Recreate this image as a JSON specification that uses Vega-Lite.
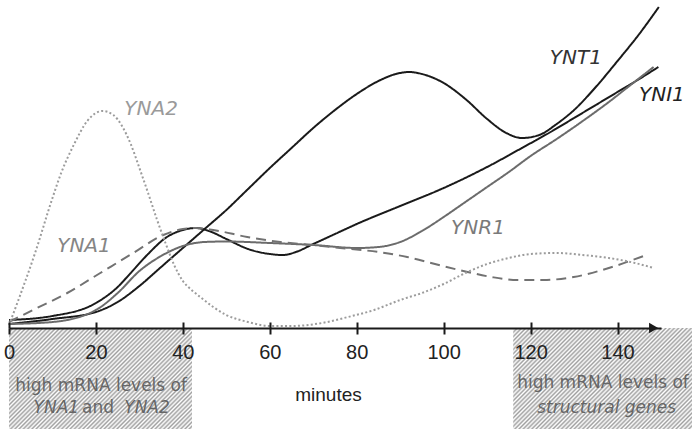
{
  "$schema": "https://vega.github.io/schema/vega-lite/v6.json",
  "width": 652,
  "height": 328,
  "autosize": {"type": "none"},
  "padding": {"left": 9, "top": 0, "right": 31, "bottom": 101},
  "background": "white",
  "config": {"view": {"stroke": null}},
  "resolve": {"axis": {"x": "independent", "y": "independent"}},
  "datasets": {
    "anchor": [{}],
    "boxes": [
      {"region": "early", "start": 0, "end": 42.1},
      {"region": "late", "start": 116, "end": 158}
    ],
    "curves": [
      {"gene": "YNT1", "minute": 0, "level": 4},
      {"gene": "YNT1", "minute": 10, "level": 9},
      {"gene": "YNT1", "minute": 20, "level": 16},
      {"gene": "YNT1", "minute": 25, "level": 26},
      {"gene": "YNT1", "minute": 30, "level": 42},
      {"gene": "YNT1", "minute": 35, "level": 61},
      {"gene": "YNT1", "minute": 40, "level": 80},
      {"gene": "YNT1", "minute": 45, "level": 99},
      {"gene": "YNT1", "minute": 50, "level": 118},
      {"gene": "YNT1", "minute": 55, "level": 139},
      {"gene": "YNT1", "minute": 60, "level": 160},
      {"gene": "YNT1", "minute": 65, "level": 180},
      {"gene": "YNT1", "minute": 70, "level": 200},
      {"gene": "YNT1", "minute": 75, "level": 218},
      {"gene": "YNT1", "minute": 80, "level": 234},
      {"gene": "YNT1", "minute": 85, "level": 247},
      {"gene": "YNT1", "minute": 89, "level": 254},
      {"gene": "YNT1", "minute": 92, "level": 256},
      {"gene": "YNT1", "minute": 95, "level": 254},
      {"gene": "YNT1", "minute": 100, "level": 245},
      {"gene": "YNT1", "minute": 105, "level": 229},
      {"gene": "YNT1", "minute": 110, "level": 209},
      {"gene": "YNT1", "minute": 114, "level": 196},
      {"gene": "YNT1", "minute": 118, "level": 190},
      {"gene": "YNT1", "minute": 122, "level": 193},
      {"gene": "YNT1", "minute": 126, "level": 204},
      {"gene": "YNT1", "minute": 130, "level": 218},
      {"gene": "YNT1", "minute": 135, "level": 241},
      {"gene": "YNT1", "minute": 140, "level": 267},
      {"gene": "YNT1", "minute": 145, "level": 294},
      {"gene": "YNT1", "minute": 149.5, "level": 321},
      {"gene": "YNI1", "minute": 0, "level": 8},
      {"gene": "YNI1", "minute": 10, "level": 12},
      {"gene": "YNI1", "minute": 20, "level": 25},
      {"gene": "YNI1", "minute": 25, "level": 41},
      {"gene": "YNI1", "minute": 28, "level": 55},
      {"gene": "YNI1", "minute": 32, "level": 74},
      {"gene": "YNI1", "minute": 36, "level": 90},
      {"gene": "YNI1", "minute": 40, "level": 98},
      {"gene": "YNI1", "minute": 43, "level": 100},
      {"gene": "YNI1", "minute": 46, "level": 97},
      {"gene": "YNI1", "minute": 50, "level": 89},
      {"gene": "YNI1", "minute": 55, "level": 79},
      {"gene": "YNI1", "minute": 60, "level": 74},
      {"gene": "YNI1", "minute": 63, "level": 73},
      {"gene": "YNI1", "minute": 66, "level": 76},
      {"gene": "YNI1", "minute": 70, "level": 84},
      {"gene": "YNI1", "minute": 75, "level": 94},
      {"gene": "YNI1", "minute": 80, "level": 104},
      {"gene": "YNI1", "minute": 90, "level": 122},
      {"gene": "YNI1", "minute": 100, "level": 140},
      {"gene": "YNI1", "minute": 110, "level": 161},
      {"gene": "YNI1", "minute": 118, "level": 180},
      {"gene": "YNI1", "minute": 125, "level": 197},
      {"gene": "YNI1", "minute": 130, "level": 210},
      {"gene": "YNI1", "minute": 135, "level": 223},
      {"gene": "YNI1", "minute": 140, "level": 236},
      {"gene": "YNI1", "minute": 145, "level": 249},
      {"gene": "YNI1", "minute": 149.4, "level": 261},
      {"gene": "YNR1", "minute": 0, "level": 4},
      {"gene": "YNR1", "minute": 10, "level": 6},
      {"gene": "YNR1", "minute": 20, "level": 18},
      {"gene": "YNR1", "minute": 25, "level": 35},
      {"gene": "YNR1", "minute": 30, "level": 57},
      {"gene": "YNR1", "minute": 35, "level": 72},
      {"gene": "YNR1", "minute": 40, "level": 82},
      {"gene": "YNR1", "minute": 45, "level": 86},
      {"gene": "YNR1", "minute": 50, "level": 86.5},
      {"gene": "YNR1", "minute": 60, "level": 85},
      {"gene": "YNR1", "minute": 70, "level": 83},
      {"gene": "YNR1", "minute": 80, "level": 80},
      {"gene": "YNR1", "minute": 85, "level": 81},
      {"gene": "YNR1", "minute": 90, "level": 86},
      {"gene": "YNR1", "minute": 95, "level": 97},
      {"gene": "YNR1", "minute": 100, "level": 111},
      {"gene": "YNR1", "minute": 105, "level": 126},
      {"gene": "YNR1", "minute": 110, "level": 141},
      {"gene": "YNR1", "minute": 115, "level": 156},
      {"gene": "YNR1", "minute": 120, "level": 172},
      {"gene": "YNR1", "minute": 126, "level": 189},
      {"gene": "YNR1", "minute": 132, "level": 207},
      {"gene": "YNR1", "minute": 138, "level": 226},
      {"gene": "YNR1", "minute": 143, "level": 243},
      {"gene": "YNR1", "minute": 148.3, "level": 261},
      {"gene": "YNA1", "minute": 0, "level": 6},
      {"gene": "YNA1", "minute": 5.5, "level": 18},
      {"gene": "YNA1", "minute": 13.4, "level": 35},
      {"gene": "YNA1", "minute": 21, "level": 55},
      {"gene": "YNA1", "minute": 28.6, "level": 75},
      {"gene": "YNA1", "minute": 35.5, "level": 93},
      {"gene": "YNA1", "minute": 40, "level": 99},
      {"gene": "YNA1", "minute": 43, "level": 100},
      {"gene": "YNA1", "minute": 47, "level": 98},
      {"gene": "YNA1", "minute": 54.8, "level": 91},
      {"gene": "YNA1", "minute": 62.4, "level": 86},
      {"gene": "YNA1", "minute": 70, "level": 83},
      {"gene": "YNA1", "minute": 76.2, "level": 80},
      {"gene": "YNA1", "minute": 85, "level": 76},
      {"gene": "YNA1", "minute": 91.6, "level": 71},
      {"gene": "YNA1", "minute": 98, "level": 64},
      {"gene": "YNA1", "minute": 105.5, "level": 56},
      {"gene": "YNA1", "minute": 111, "level": 51},
      {"gene": "YNA1", "minute": 117, "level": 48},
      {"gene": "YNA1", "minute": 123, "level": 48},
      {"gene": "YNA1", "minute": 129.9, "level": 51},
      {"gene": "YNA1", "minute": 138, "level": 60},
      {"gene": "YNA1", "minute": 146, "level": 72},
      {"gene": "YNA2", "minute": 0, "level": 3},
      {"gene": "YNA2", "minute": 2.5, "level": 32},
      {"gene": "YNA2", "minute": 6, "level": 75},
      {"gene": "YNA2", "minute": 10, "level": 130},
      {"gene": "YNA2", "minute": 12, "level": 155},
      {"gene": "YNA2", "minute": 15, "level": 184},
      {"gene": "YNA2", "minute": 18, "level": 207},
      {"gene": "YNA2", "minute": 21.5, "level": 217},
      {"gene": "YNA2", "minute": 24, "level": 213},
      {"gene": "YNA2", "minute": 26, "level": 202},
      {"gene": "YNA2", "minute": 28, "level": 184},
      {"gene": "YNA2", "minute": 30, "level": 160},
      {"gene": "YNA2", "minute": 32, "level": 135},
      {"gene": "YNA2", "minute": 34, "level": 109},
      {"gene": "YNA2", "minute": 36, "level": 85},
      {"gene": "YNA2", "minute": 38, "level": 63},
      {"gene": "YNA2", "minute": 40, "level": 47},
      {"gene": "YNA2", "minute": 42, "level": 38},
      {"gene": "YNA2", "minute": 44, "level": 31},
      {"gene": "YNA2", "minute": 47, "level": 21},
      {"gene": "YNA2", "minute": 50, "level": 13},
      {"gene": "YNA2", "minute": 55, "level": 6},
      {"gene": "YNA2", "minute": 60, "level": 2},
      {"gene": "YNA2", "minute": 65, "level": 2},
      {"gene": "YNA2", "minute": 72, "level": 5},
      {"gene": "YNA2", "minute": 78, "level": 11},
      {"gene": "YNA2", "minute": 84, "level": 18},
      {"gene": "YNA2", "minute": 90, "level": 28},
      {"gene": "YNA2", "minute": 95, "level": 35},
      {"gene": "YNA2", "minute": 100, "level": 44},
      {"gene": "YNA2", "minute": 105, "level": 55},
      {"gene": "YNA2", "minute": 110, "level": 64},
      {"gene": "YNA2", "minute": 115, "level": 70},
      {"gene": "YNA2", "minute": 120, "level": 74},
      {"gene": "YNA2", "minute": 126, "level": 75},
      {"gene": "YNA2", "minute": 132, "level": 73},
      {"gene": "YNA2", "minute": 138, "level": 70},
      {"gene": "YNA2", "minute": 144, "level": 65},
      {"gene": "YNA2", "minute": 148.3, "level": 60}
    ]
  },
  "layer": [
    {
      "data": {"name": "boxes"},
      "mark": {
        "type": "rect",
        "strokeWidth": 0,
        "fill": {
          "gradient": "linear", "x1": 0, "y1": 0, "x2": 1.1906, "y2": 0.6536,
          "stops": [
            {"offset": 0, "color": "#a0a0a0"}, {"offset": 0.0075, "color": "#ffffff"},
            {"offset": 0.015, "color": "#a0a0a0"}, {"offset": 0.0225, "color": "#ffffff"},
            {"offset": 0.03, "color": "#a0a0a0"}, {"offset": 0.0375, "color": "#ffffff"},
            {"offset": 0.045, "color": "#a0a0a0"}, {"offset": 0.0525, "color": "#ffffff"},
            {"offset": 0.06, "color": "#a0a0a0"}, {"offset": 0.0675, "color": "#ffffff"},
            {"offset": 0.075, "color": "#a0a0a0"}, {"offset": 0.0825, "color": "#ffffff"},
            {"offset": 0.09, "color": "#a0a0a0"}, {"offset": 0.0975, "color": "#ffffff"},
            {"offset": 0.105, "color": "#a0a0a0"}, {"offset": 0.1125, "color": "#ffffff"},
            {"offset": 0.12, "color": "#a0a0a0"}, {"offset": 0.1275, "color": "#ffffff"},
            {"offset": 0.135, "color": "#a0a0a0"}, {"offset": 0.1425, "color": "#ffffff"},
            {"offset": 0.15, "color": "#a0a0a0"}, {"offset": 0.1575, "color": "#ffffff"},
            {"offset": 0.165, "color": "#a0a0a0"}, {"offset": 0.1725, "color": "#ffffff"},
            {"offset": 0.18, "color": "#a0a0a0"}, {"offset": 0.1875, "color": "#ffffff"},
            {"offset": 0.195, "color": "#a0a0a0"}, {"offset": 0.2025, "color": "#ffffff"},
            {"offset": 0.21, "color": "#a0a0a0"}, {"offset": 0.2175, "color": "#ffffff"},
            {"offset": 0.225, "color": "#a0a0a0"}, {"offset": 0.2325, "color": "#ffffff"},
            {"offset": 0.24, "color": "#a0a0a0"}, {"offset": 0.2475, "color": "#ffffff"},
            {"offset": 0.255, "color": "#a0a0a0"}, {"offset": 0.2625, "color": "#ffffff"},
            {"offset": 0.27, "color": "#a0a0a0"}, {"offset": 0.2775, "color": "#ffffff"},
            {"offset": 0.285, "color": "#a0a0a0"}, {"offset": 0.2925, "color": "#ffffff"},
            {"offset": 0.3, "color": "#a0a0a0"}, {"offset": 0.3075, "color": "#ffffff"},
            {"offset": 0.315, "color": "#a0a0a0"}, {"offset": 0.3225, "color": "#ffffff"},
            {"offset": 0.33, "color": "#a0a0a0"}, {"offset": 0.3375, "color": "#ffffff"},
            {"offset": 0.345, "color": "#a0a0a0"}, {"offset": 0.3525, "color": "#ffffff"},
            {"offset": 0.36, "color": "#a0a0a0"}, {"offset": 0.3675, "color": "#ffffff"},
            {"offset": 0.375, "color": "#a0a0a0"}, {"offset": 0.3825, "color": "#ffffff"},
            {"offset": 0.39, "color": "#a0a0a0"}, {"offset": 0.3975, "color": "#ffffff"},
            {"offset": 0.405, "color": "#a0a0a0"}, {"offset": 0.4125, "color": "#ffffff"},
            {"offset": 0.42, "color": "#a0a0a0"}, {"offset": 0.4275, "color": "#ffffff"},
            {"offset": 0.435, "color": "#a0a0a0"}, {"offset": 0.4425, "color": "#ffffff"},
            {"offset": 0.45, "color": "#a0a0a0"}, {"offset": 0.4575, "color": "#ffffff"},
            {"offset": 0.465, "color": "#a0a0a0"}, {"offset": 0.4725, "color": "#ffffff"},
            {"offset": 0.48, "color": "#a0a0a0"}, {"offset": 0.4875, "color": "#ffffff"},
            {"offset": 0.495, "color": "#a0a0a0"}, {"offset": 0.5025, "color": "#ffffff"},
            {"offset": 0.51, "color": "#a0a0a0"}, {"offset": 0.5175, "color": "#ffffff"},
            {"offset": 0.525, "color": "#a0a0a0"}, {"offset": 0.5325, "color": "#ffffff"},
            {"offset": 0.54, "color": "#a0a0a0"}, {"offset": 0.5475, "color": "#ffffff"},
            {"offset": 0.555, "color": "#a0a0a0"}, {"offset": 0.5625, "color": "#ffffff"},
            {"offset": 0.57, "color": "#a0a0a0"}, {"offset": 0.5775, "color": "#ffffff"},
            {"offset": 0.585, "color": "#a0a0a0"}, {"offset": 0.5925, "color": "#ffffff"},
            {"offset": 0.6, "color": "#a0a0a0"}, {"offset": 0.6075, "color": "#ffffff"},
            {"offset": 0.615, "color": "#a0a0a0"}, {"offset": 0.6225, "color": "#ffffff"},
            {"offset": 0.63, "color": "#a0a0a0"}, {"offset": 0.6375, "color": "#ffffff"},
            {"offset": 0.645, "color": "#a0a0a0"}, {"offset": 0.6525, "color": "#ffffff"},
            {"offset": 0.66, "color": "#a0a0a0"}, {"offset": 0.6675, "color": "#ffffff"},
            {"offset": 0.675, "color": "#a0a0a0"}, {"offset": 0.6825, "color": "#ffffff"},
            {"offset": 0.69, "color": "#a0a0a0"}, {"offset": 0.6975, "color": "#ffffff"},
            {"offset": 0.705, "color": "#a0a0a0"}, {"offset": 0.7125, "color": "#ffffff"},
            {"offset": 0.72, "color": "#a0a0a0"}, {"offset": 0.7275, "color": "#ffffff"},
            {"offset": 0.735, "color": "#a0a0a0"}, {"offset": 0.7425, "color": "#ffffff"},
            {"offset": 0.75, "color": "#a0a0a0"}, {"offset": 0.7575, "color": "#ffffff"},
            {"offset": 0.765, "color": "#a0a0a0"}, {"offset": 0.7725, "color": "#ffffff"},
            {"offset": 0.78, "color": "#a0a0a0"}, {"offset": 0.7875, "color": "#ffffff"},
            {"offset": 0.795, "color": "#a0a0a0"}, {"offset": 0.8025, "color": "#ffffff"},
            {"offset": 0.81, "color": "#a0a0a0"}, {"offset": 0.8175, "color": "#ffffff"},
            {"offset": 0.825, "color": "#a0a0a0"}, {"offset": 0.8325, "color": "#ffffff"},
            {"offset": 0.84, "color": "#a0a0a0"}, {"offset": 0.8475, "color": "#ffffff"},
            {"offset": 0.855, "color": "#a0a0a0"}, {"offset": 0.8625, "color": "#ffffff"},
            {"offset": 0.87, "color": "#a0a0a0"}, {"offset": 0.8775, "color": "#ffffff"},
            {"offset": 0.885, "color": "#a0a0a0"}, {"offset": 0.8925, "color": "#ffffff"},
            {"offset": 0.9, "color": "#a0a0a0"}, {"offset": 0.9075, "color": "#ffffff"},
            {"offset": 0.915, "color": "#a0a0a0"}, {"offset": 0.9225, "color": "#ffffff"},
            {"offset": 0.93, "color": "#a0a0a0"}, {"offset": 0.9375, "color": "#ffffff"},
            {"offset": 0.945, "color": "#a0a0a0"}, {"offset": 0.9525, "color": "#ffffff"},
            {"offset": 0.96, "color": "#a0a0a0"}, {"offset": 0.9675, "color": "#ffffff"},
            {"offset": 0.975, "color": "#a0a0a0"}, {"offset": 0.9825, "color": "#ffffff"},
            {"offset": 0.99, "color": "#a0a0a0"}, {"offset": 0.9975, "color": "#ffffff"},
            {"offset": 1, "color": "#a0a0a0"}
          ]
        }
      },
      "encoding": {
        "x": {"field": "start", "type": "quantitative", "scale": {"domain": [0, 150], "nice": false, "zero": false}, "axis": null},
        "x2": {"field": "end"},
        "y": {"datum": 0, "type": "quantitative", "scale": {"domain": [0, 328], "nice": false, "zero": false}, "axis": null},
        "y2": {"datum": -101}
      }
    },
    {
      "data": {"name": "anchor"},
      "mark": {"type": "text", "text": "high mRNA levels of", "font": "DejaVu Sans", "fontSize": 17, "color": "#666666", "align": "center", "baseline": "middle"},
      "encoding": {"x": {"datum": 21.2, "type": "quantitative", "axis": null}, "y": {"datum": -58, "type": "quantitative", "axis": null}}
    },
    {
      "data": {"name": "anchor"},
      "mark": {"type": "text", "text": "YNA1", "font": "DejaVu Sans", "fontStyle": "oblique", "fontSize": 17, "color": "#666666", "align": "center", "baseline": "middle"},
      "encoding": {"x": {"datum": 10.9, "type": "quantitative", "axis": null}, "y": {"datum": -80, "type": "quantitative", "axis": null}}
    },
    {
      "data": {"name": "anchor"},
      "mark": {"type": "text", "text": "and", "font": "DejaVu Sans", "fontSize": 17, "color": "#666666", "align": "center", "baseline": "middle"},
      "encoding": {"x": {"datum": 20.5, "type": "quantitative", "axis": null}, "y": {"datum": -80, "type": "quantitative", "axis": null}}
    },
    {
      "data": {"name": "anchor"},
      "mark": {"type": "text", "text": "YNA2", "font": "DejaVu Sans", "fontStyle": "oblique", "fontSize": 17, "color": "#666666", "align": "center", "baseline": "middle"},
      "encoding": {"x": {"datum": 31.75, "type": "quantitative", "axis": null}, "y": {"datum": -80, "type": "quantitative", "axis": null}}
    },
    {
      "data": {"name": "anchor"},
      "mark": {"type": "text", "text": "high mRNA levels of", "font": "DejaVu Sans", "fontSize": 17, "color": "#666666", "align": "center", "baseline": "middle"},
      "encoding": {"x": {"datum": 136.65, "type": "quantitative", "axis": null}, "y": {"datum": -55, "type": "quantitative", "axis": null}}
    },
    {
      "data": {"name": "anchor"},
      "mark": {"type": "text", "text": "structural genes", "font": "DejaVu Sans", "fontStyle": "oblique", "fontSize": 17, "color": "#666666", "align": "center", "baseline": "middle"},
      "encoding": {"x": {"datum": 137.5, "type": "quantitative", "axis": null}, "y": {"datum": -80, "type": "quantitative", "axis": null}}
    },
    {
      "data": {"name": "curves"},
      "mark": {"type": "line", "interpolate": "monotone", "strokeWidth": 2},
      "encoding": {
        "x": {
          "field": "minute", "type": "quantitative",
          "axis": {
            "orient": "bottom", "values": [0, 20, 40, 60, 80, 100, 120, 140], "grid": false, "zindex": 2,
            "domainColor": "#1a1a1a", "domainWidth": 2,
            "tickColor": "#1a1a1a", "tickWidth": 2, "tickSize": 6,
            "labelFont": "Liberation Sans", "labelFontSize": 20, "labelColor": "#222222", "labelPadding": 8,
            "labelFlush": false, "labelOverlap": false,
            "title": "minutes", "titleFont": "Liberation Sans", "titleFontSize": 19, "titleFontWeight": "normal",
            "titleColor": "#222222", "titleX": 319, "titleY": 66, "titleBaseline": "middle", "titleAlign": "center"
          }
        },
        "y": {"field": "level", "type": "quantitative", "axis": null},
        "color": {
          "field": "gene", "type": "nominal", "legend": null,
          "scale": {"domain": ["YNT1", "YNI1", "YNR1", "YNA1", "YNA2"], "range": ["#1a1a1a", "#1a1a1a", "#6b6b6b", "#727272", "#9c9c9c"]}
        },
        "strokeDash": {
          "field": "gene", "type": "nominal", "legend": null,
          "scale": {"domain": ["YNT1", "YNI1", "YNR1", "YNA1", "YNA2"], "range": [[1, 0], [1, 0], [1, 0], [10, 6], [2, 2.3]]}
        }
      }
    },
    {
      "data": {"name": "anchor"},
      "mark": {"type": "point", "shape": "triangle-right", "filled": true, "size": 110, "color": "#1a1a1a", "opacity": 1},
      "encoding": {
        "x": {
          "datum": 148.3, "type": "quantitative",
          "axis": {
            "orient": "top", "offset": -328, "values": [0, 20, 40, 60, 80, 100, 120, 140], "grid": false, "zindex": 2,
            "labels": false, "domain": false, "ticks": true, "tickColor": "#1a1a1a", "tickWidth": 2, "tickSize": 6, "title": null
          }
        },
        "y": {"datum": 0, "type": "quantitative", "axis": null}
      }
    },
    {
      "data": {"name": "anchor"},
      "mark": {"type": "text", "text": "YNA2", "font": "DejaVu Sans", "fontStyle": "oblique", "fontSize": 20, "color": "#9a9a9a", "align": "center", "baseline": "middle"},
      "encoding": {"x": {"datum": 32.7, "type": "quantitative", "axis": null}, "y": {"datum": 219, "type": "quantitative", "axis": null}}
    },
    {
      "data": {"name": "anchor"},
      "mark": {"type": "text", "text": "YNA1", "font": "DejaVu Sans", "fontStyle": "oblique", "fontSize": 20, "color": "#858585", "align": "center", "baseline": "middle"},
      "encoding": {"x": {"datum": 17.25, "type": "quantitative", "axis": null}, "y": {"datum": 82, "type": "quantitative", "axis": null}}
    },
    {
      "data": {"name": "anchor"},
      "mark": {"type": "text", "text": "YNR1", "font": "DejaVu Sans", "fontStyle": "oblique", "fontSize": 20, "color": "#7a7a7a", "align": "center", "baseline": "middle"},
      "encoding": {"x": {"datum": 107.9, "type": "quantitative", "axis": null}, "y": {"datum": 100, "type": "quantitative", "axis": null}}
    },
    {
      "data": {"name": "anchor"},
      "mark": {"type": "text", "text": "YNT1", "font": "DejaVu Sans", "fontStyle": "oblique", "fontSize": 20, "color": "#333333", "align": "center", "baseline": "middle"},
      "encoding": {"x": {"datum": 130.4, "type": "quantitative", "axis": null}, "y": {"datum": 270, "type": "quantitative", "axis": null}}
    },
    {
      "data": {"name": "anchor"},
      "mark": {"type": "text", "text": "YNI1", "font": "DejaVu Sans", "fontStyle": "oblique", "fontSize": 20, "color": "#222222", "align": "center", "baseline": "middle"},
      "encoding": {"x": {"datum": 150.2, "type": "quantitative", "axis": null}, "y": {"datum": 233, "type": "quantitative", "axis": null}}
    }
  ]
}
